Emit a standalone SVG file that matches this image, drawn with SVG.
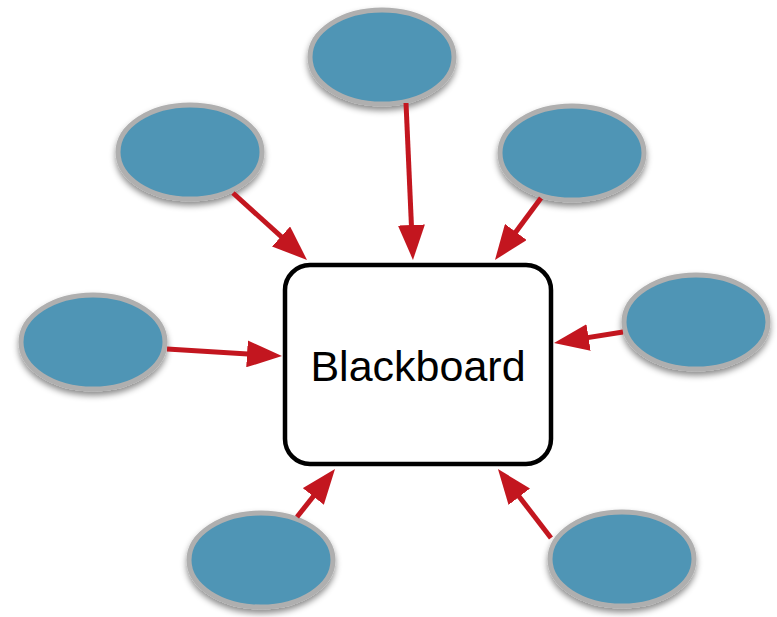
<svg xmlns="http://www.w3.org/2000/svg" width="777" height="617" viewBox="0 0 777 617">
  <style>
    .src { fill: #4f95b5; stroke: #afafaf; stroke-width: 5; filter: url(#shadow); }
    .board { fill: #ffffff; stroke: #000000; stroke-width: 4.5; }
    .label { font-family: "Liberation Sans", Arial, Helvetica, sans-serif; font-size: 43px; fill: #000000; }
    .link { stroke: #c3161f; stroke-width: 5; fill: none; marker-end: url(#head); }
  </style>
  <defs>
    <filter id="shadow" x="-20%" y="-20%" width="140%" height="150%">
      <feDropShadow dx="0" dy="4" stdDeviation="3" flood-color="#000000" flood-opacity="0.45"/>
    </filter>
    <marker id="head" markerUnits="userSpaceOnUse" markerWidth="35" markerHeight="27" refX="20" refY="13.5" orient="auto">
      <path d="M0,0 L35,13.5 L0,27 z" fill="#c3161f"/>
    </marker>
  </defs>
  <rect width="777" height="617" fill="#ffffff"/>

  <g id="source-top"><ellipse class="src" cx="382" cy="57" rx="72" ry="47"/></g>
  <g id="source-upper-left"><ellipse class="src" cx="190" cy="152" rx="72" ry="47"/></g>
  <g id="source-upper-right"><ellipse class="src" cx="572" cy="153" rx="72" ry="47"/></g>
  <g id="source-left"><ellipse class="src" cx="93" cy="342" rx="72" ry="47"/></g>
  <g id="source-right"><ellipse class="src" cx="696" cy="322" rx="72" ry="47"/></g>
  <g id="source-lower-left"><ellipse class="src" cx="261" cy="560" rx="72" ry="47"/></g>
  <g id="source-lower-right"><ellipse class="src" cx="622" cy="559" rx="72" ry="47"/></g>

  <g id="blackboard">
    <rect class="board" x="285" y="265" width="266" height="199" rx="25" ry="25"/>
    <text class="label" x="418" y="381" text-anchor="middle">Blackboard</text>
  </g>

  <g id="connectors">
    <line class="link" x1="406" y1="103" x2="412.3" y2="245"/>
    <line class="link" x1="233" y1="193" x2="295.9" y2="249.9"/>
    <line class="link" x1="541" y1="198" x2="503.9" y2="248"/>
    <line class="link" x1="167" y1="349" x2="267" y2="355.1"/>
    <line class="link" x1="623" y1="332" x2="568.8" y2="340.6"/>
    <line class="link" x1="297" y1="517" x2="325.7" y2="480.8"/>
    <line class="link" x1="551" y1="538" x2="507.1" y2="480.9"/>
  </g>
</svg>
